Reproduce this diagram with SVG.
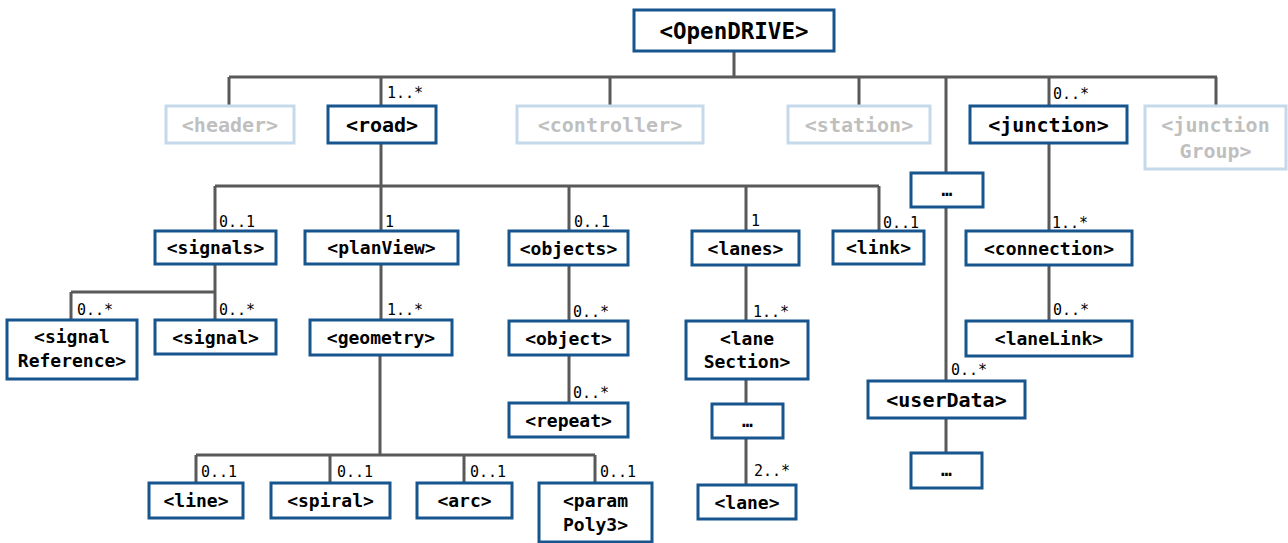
<svg xmlns="http://www.w3.org/2000/svg" width="1288" height="543" viewBox="0 0 1288 543">
  <style>
    .box { fill: #ffffff; stroke: #17558f; stroke-width: 3; }
    .box-off { fill: #ffffff; stroke: #c5d9ea; stroke-width: 3; }
    .t { font-family: "DejaVu Sans Mono", "Liberation Mono", monospace; font-weight: bold; fill: #000000; text-anchor: middle; }
    .t-off { fill: #bfbfbf; }
    .s18 { font-size: 18px; }
    .s20 { font-size: 20px; }
    .s22 { font-size: 22.5px; }
    .m { font-family: "DejaVu Sans Mono", "Liberation Mono", monospace; font-size: 15px; fill: #000000; }
    .ln { fill: none; stroke: #595959; stroke-width: 3; }
  </style>

  <!-- connectors -->
  <g id="connectors">
    <path class="ln" d="M734 51 V77 M229 77 H1217 M229 77 V106 M381 77 V106 M610 77 V106 M859 77 V106 M946 77 V173 M1049 77 V106 M1216 77 V106"/>
    <path class="ln" d="M381 143 V186 M215 186 H879 M215 186 V231 M381 186 V231 M569 186 V231 M746 186 V231 M879 186 V231"/>
    <path class="ln" d="M215 264 V292 M71 292 H215 M71 292 V320 M215 292 V320"/>
    <path class="ln" d="M381 264 V320 M380 355 V455 M196 455 H595 M196 455 V483 M330 455 V483 M464 455 V483 M595 455 V483"/>
    <path class="ln" d="M569 265 V321 M569 355 V403"/>
    <path class="ln" d="M746 265 V321 M746 379 V404 M746 438 V485"/>
    <path class="ln" d="M1049 143 V231 M1049 265 V321"/>
    <path class="ln" d="M946 207 V381 M946 418 V453"/>
    <text class="m" x="387" y="98">1..*</text>
    <text class="m" x="1053" y="99">0..*</text>
    <text class="m" x="219" y="227">0..1</text>
    <text class="m" x="385" y="227">1</text>
    <text class="m" x="574" y="227">0..1</text>
    <text class="m" x="751" y="226">1</text>
    <text class="m" x="883" y="228">0..1</text>
    <text class="m" x="1052" y="228">1..*</text>
    <text class="m" x="77" y="315">0..*</text>
    <text class="m" x="219" y="315">0..*</text>
    <text class="m" x="387" y="315">1..*</text>
    <text class="m" x="573" y="317">0..*</text>
    <text class="m" x="753" y="317">1..*</text>
    <text class="m" x="1053" y="315">0..*</text>
    <text class="m" x="573" y="398">0..*</text>
    <text class="m" x="951" y="375">0..*</text>
    <text class="m" x="754" y="476">2..*</text>
    <text class="m" x="201" y="477">0..1</text>
    <text class="m" x="337" y="477">0..1</text>
    <text class="m" x="470" y="477">0..1</text>
    <text class="m" x="600" y="477">0..1</text>
  </g>

  <!-- root -->
  <g id="openDRIVE">
    <rect class="box" x="634" y="10" width="200" height="41"/>
    <text class="t s22" x="734" y="39">&lt;OpenDRIVE&gt;</text>
  </g>

  <!-- first level -->
  <g id="header">
    <rect class="box-off" x="166" y="106" width="128" height="37"/>
    <text class="t t-off s20" x="230" y="131.5">&lt;header&gt;</text>
  </g>
  <g id="road">
    <rect class="box" x="328" y="106" width="108" height="37"/>
    <text class="t s20" x="382" y="131.5">&lt;road&gt;</text>
  </g>
  <g id="controller">
    <rect class="box-off" x="517" y="106" width="186" height="37"/>
    <text class="t t-off s20" x="610" y="131.5">&lt;controller&gt;</text>
  </g>
  <g id="station">
    <rect class="box-off" x="788" y="106" width="142" height="37"/>
    <text class="t t-off s20" x="859" y="131.5">&lt;station&gt;</text>
  </g>
  <g id="junction">
    <rect class="box" x="970" y="106" width="157" height="37"/>
    <text class="t s20" x="1048.5" y="131.5">&lt;junction&gt;</text>
  </g>
  <g id="junctionGroup">
    <rect class="box-off" x="1145" y="106" width="141" height="63"/>
    <text class="t t-off s20" x="1215.5" y="132">&lt;junction</text>
    <text class="t t-off s20" x="1215.5" y="158">Group&gt;</text>
  </g>
  <g id="more-top">
    <rect class="box" x="911" y="173" width="72" height="34"/>
    <text class="t s18" x="947" y="196">…</text>
  </g>

  <!-- road children -->
  <g id="signals">
    <rect class="box" x="155" y="231" width="121" height="33"/>
    <text class="t s18" x="215.5" y="254">&lt;signals&gt;</text>
  </g>
  <g id="planView">
    <rect class="box" x="305" y="231" width="153" height="33"/>
    <text class="t s18" x="381.5" y="254">&lt;planView&gt;</text>
  </g>
  <g id="objects">
    <rect class="box" x="509" y="231" width="119" height="34"/>
    <text class="t s18" x="568.5" y="254.5">&lt;objects&gt;</text>
  </g>
  <g id="lanes">
    <rect class="box" x="692" y="231" width="107" height="34"/>
    <text class="t s18" x="745.5" y="254.5">&lt;lanes&gt;</text>
  </g>
  <g id="link">
    <rect class="box" x="833" y="231" width="91" height="33"/>
    <text class="t s18" x="878.5" y="254">&lt;link&gt;</text>
  </g>
  <g id="connection">
    <rect class="box" x="966" y="231" width="166" height="34"/>
    <text class="t s18" x="1049" y="254.5">&lt;connection&gt;</text>
  </g>

  <!-- third level -->
  <g id="signalReference">
    <rect class="box" x="7" y="320" width="130" height="59"/>
    <text class="t s18" x="72" y="343">&lt;signal</text>
    <text class="t s18" x="72" y="367">Reference&gt;</text>
  </g>
  <g id="signal">
    <rect class="box" x="155" y="320" width="121" height="34"/>
    <text class="t s18" x="215.5" y="343.5">&lt;signal&gt;</text>
  </g>
  <g id="geometry">
    <rect class="box" x="310" y="320" width="142" height="35"/>
    <text class="t s18" x="381" y="344">&lt;geometry&gt;</text>
  </g>
  <g id="object">
    <rect class="box" x="509" y="321" width="119" height="34"/>
    <text class="t s18" x="568.5" y="344.5">&lt;object&gt;</text>
  </g>
  <g id="laneSection">
    <rect class="box" x="686" y="321" width="122" height="58"/>
    <text class="t s18" x="747" y="345">&lt;lane</text>
    <text class="t s18" x="747" y="368">Section&gt;</text>
  </g>
  <g id="laneLink">
    <rect class="box" x="966" y="321" width="166" height="35"/>
    <text class="t s18" x="1049" y="345">&lt;laneLink&gt;</text>
  </g>
  <g id="userData">
    <rect class="box" x="868" y="381" width="157" height="37"/>
    <text class="t s20" x="946.5" y="406.5">&lt;userData&gt;</text>
  </g>
  <g id="repeat">
    <rect class="box" x="509" y="403" width="119" height="34"/>
    <text class="t s18" x="568.5" y="426.5">&lt;repeat&gt;</text>
  </g>
  <g id="more-laneSection">
    <rect class="box" x="712" y="404" width="71" height="34"/>
    <text class="t s18" x="747.5" y="427">…</text>
  </g>
  <g id="more-userData">
    <rect class="box" x="911" y="453" width="71" height="35"/>
    <text class="t s18" x="946.5" y="476">…</text>
  </g>

  <!-- geometry children -->
  <g id="line">
    <rect class="box" x="149" y="483" width="94" height="35"/>
    <text class="t s18" x="196" y="507">&lt;line&gt;</text>
  </g>
  <g id="spiral">
    <rect class="box" x="271" y="483" width="119" height="35"/>
    <text class="t s18" x="330.5" y="507">&lt;spiral&gt;</text>
  </g>
  <g id="arc">
    <rect class="box" x="417" y="483" width="95" height="35"/>
    <text class="t s18" x="464.5" y="507">&lt;arc&gt;</text>
  </g>
  <g id="paramPoly3">
    <rect class="box" x="539" y="483" width="113" height="59"/>
    <text class="t s18" x="595.5" y="507">&lt;param</text>
    <text class="t s18" x="595.5" y="531">Poly3&gt;</text>
  </g>
  <g id="lane">
    <rect class="box" x="698" y="485" width="98" height="34"/>
    <text class="t s18" x="747" y="508.5">&lt;lane&gt;</text>
  </g>
</svg>
